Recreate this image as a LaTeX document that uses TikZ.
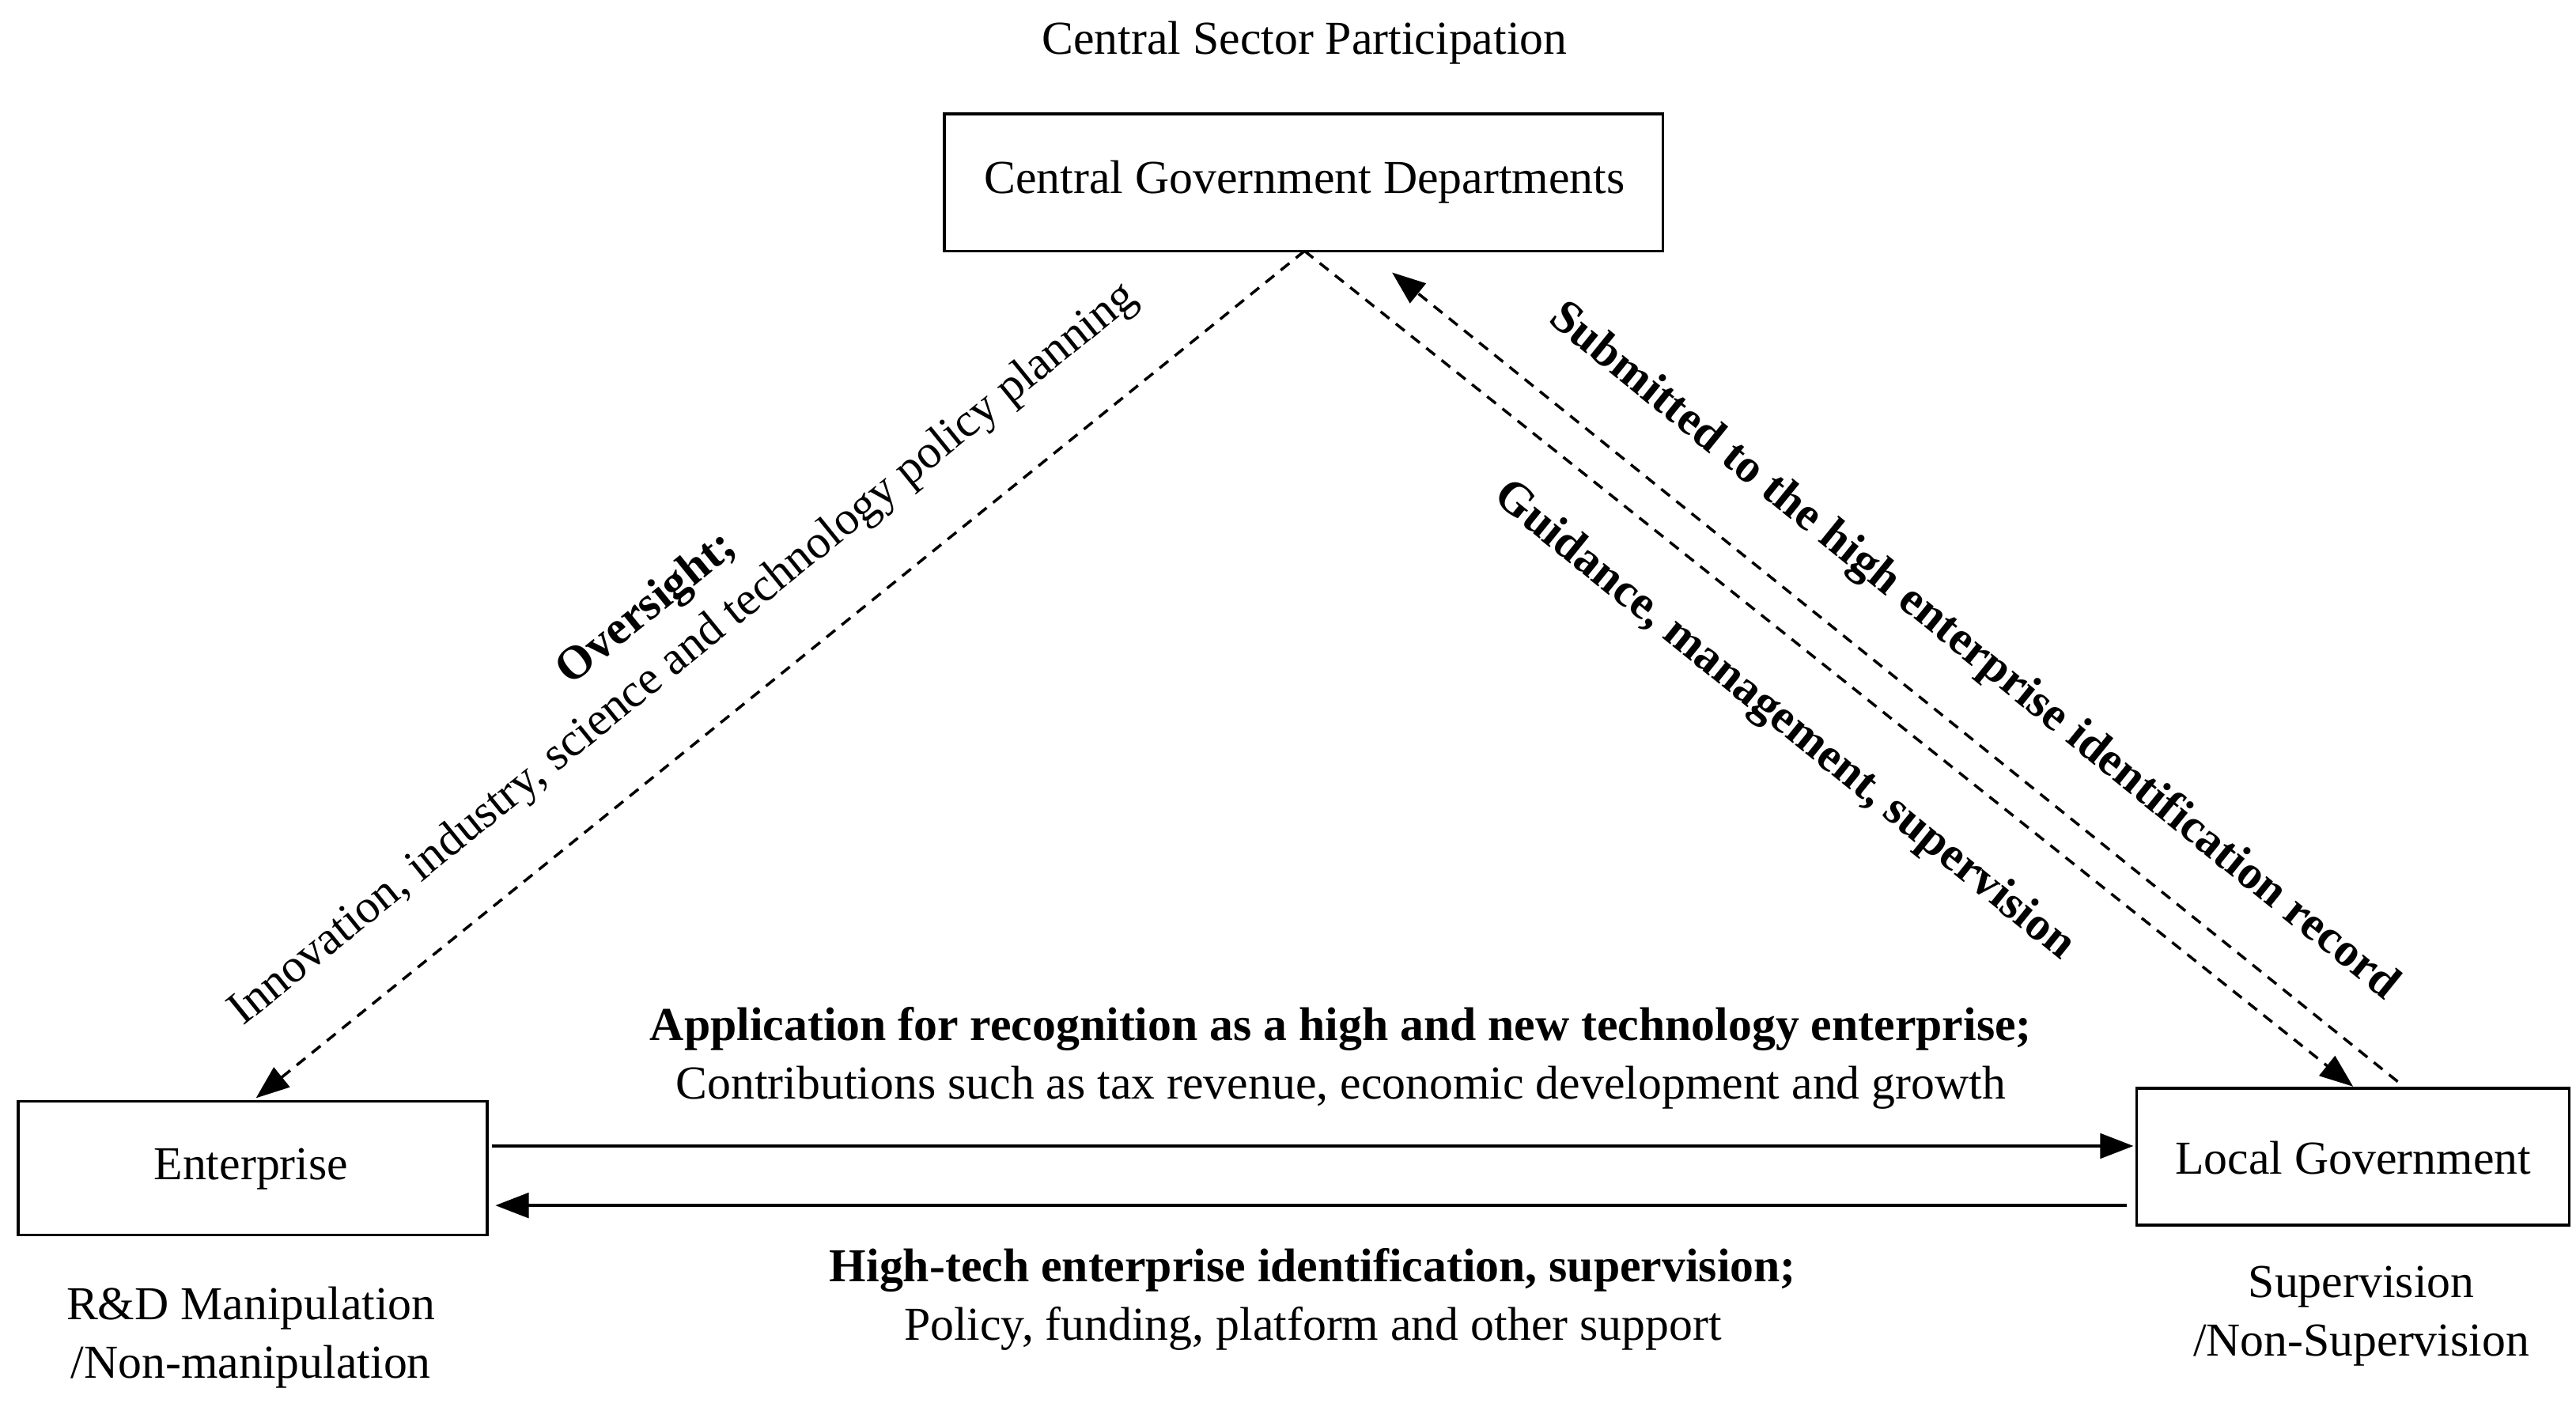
\documentclass[tikz,border=0pt]{standalone}
\usepackage{fontspec}
\setmainfont{Liberation Serif}
\usetikzlibrary{arrows.meta}
\begin{document}
\begin{tikzpicture}[x=0.02088cm,y=-0.02088cm,
  every node/.style={font=\fontsize{17}{21}\selectfont},
  box/.style={draw,line width=1pt,minimum width=0},
  arr/.style={-{Triangle[length=12pt,width=9pt]},line width=1pt},
  dsh/.style={arr,dash pattern=on 4pt off 3pt}]
\useasboundingbox (0,0) rectangle (1560,852);
\draw[line width=1pt] (572,69) rectangle (1007,152);
\node (cg) at (790,110) {Central Government Departments};
\draw[line width=1pt] (11,667) rectangle (295,748);
\node (en) at (152,708) {Enterprise};
\draw[line width=1pt] (1294,659) rectangle (1556,742);
\node (lg) at (1425,701) {Local Government};
\node (csp) at (790,26) {Central Sector Participation};
\node[align=center] (rd) at (152,810) {R\&D Manipulation\\/Non-manipulation};
\node[align=center] (sv) at (1430,797) {Supervision\\/Non-Supervision};
\coordinate (c1) at (790,152);
\coordinate (e1) at (155,665);
\coordinate (l1) at (1425,658);
\coordinate (l2) at (1452,655);
\coordinate (c2) at (843,165);
\coordinate (ea) at (298,694);
\coordinate (la) at (1292,694);
\coordinate (lb) at (1288,730);
\coordinate (eb) at (300,730);
\draw[arr] (ea) -- (la);
\draw[arr] (lb) -- (eb);
\draw[dsh] (c1) -- (e1);
\draw[dsh] (c1) -- (l1);
\draw[dsh] (l2) -- (c2);
\node[align=center] (t1) at (812,641) {\textbf{Application for recognition as a high and new technology enterprise;}\\Contributions such as tax revenue, economic development and growth};
\node[align=center] (t2) at (795,787) {\textbf{High-tech enterprise identification, supervision;}\\Policy, funding, platform and other support};
\node[align=center,rotate=39] (t3) at (403,383) {\textbf{Oversight;}\\Innovation, industry, science and technology policy planning};
\node[rotate=-39] (t4) at (1080,437) {\textbf{Guidance, management, supervision}};
\node[rotate=-39] (t5) at (1195,395) {\textbf{Submitted to the high enterprise identification record}};
\end{tikzpicture}
\end{document}
